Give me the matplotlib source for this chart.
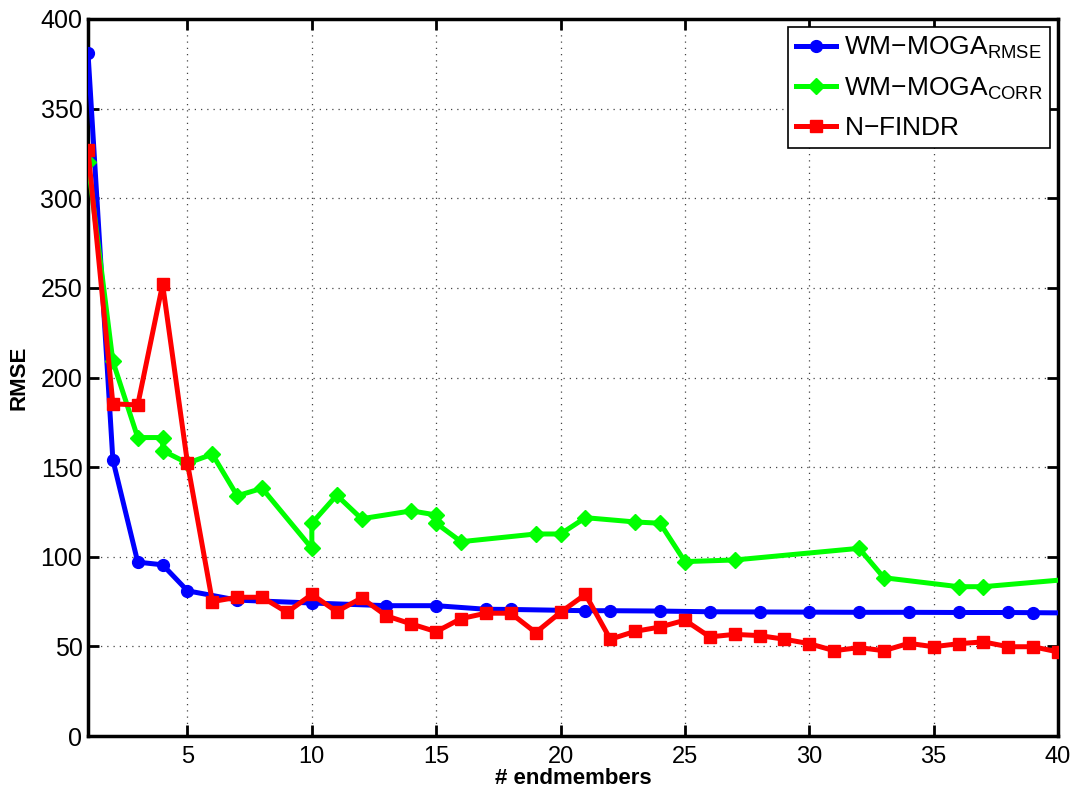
import matplotlib
matplotlib.use("Agg")
import matplotlib.pyplot as plt

plt.rcParams['font.family'] = ['Liberation Sans', 'DejaVu Sans']
plt.rcParams['mathtext.fontset'] = 'custom'
plt.rcParams['mathtext.rm'] = 'Liberation Sans'
plt.rcParams['mathtext.it'] = 'Liberation Sans'
plt.rcParams['mathtext.bf'] = 'Liberation Sans:bold'

# Data
rmse_x = [1, 2, 3, 4, 5, 7, 10, 13, 15, 17, 18, 21, 22, 24, 26, 28, 30, 32, 34, 36, 38, 39, 40]
rmse_y = [381, 154, 97, 95.5, 81, 75.8, 74.2, 72.7, 72.7, 70.7, 70.6, 69.9, 69.9, 69.7, 69.3, 69.2, 69.1, 69.0, 69.0, 68.9, 68.9, 68.8, 68.7]

corr_x = [1, 2, 3, 4, 4, 5, 6, 7, 8, 10, 10, 11, 12, 14, 15, 15, 16, 19, 20, 21, 23, 24, 25, 27, 32, 33, 36, 37, 40]
corr_y = [320, 209, 166.5, 166.5, 159.2, 152.2, 157.2, 134, 138.2, 104.7, 118.7, 134.3, 121.2, 125.6, 123.3, 118.7, 108.4, 112.7, 112.7, 121.8, 119.4, 118.7, 97.3, 98.2, 104.7, 88.3, 83.3, 83.3, 86.9]

nfindr_x = list(range(1, 41))
nfindr_y = [327, 185.3, 184.7, 252, 152.2, 75, 77.4, 77.4, 69, 79, 69.4, 77, 67, 62.5, 58.2, 65.5, 68.5, 68.5, 57.7, 69,
            79, 54, 58.4, 60.8, 64.6, 55.3, 56.7, 56, 54, 51.5, 47.6, 49.3, 47.6, 51.7, 49.8, 51.5, 52.5, 49.8, 49.8, 46.9]

labels = [r'WM$-$MOGA$_{\mathrm{RMSE}}$', r'WM$-$MOGA$_{\mathrm{CORR}}$', r'N$-$FINDR']
xticks = [5, 10, 15, 20, 25, 30, 35, 40]
yticks = [0, 50, 100, 150, 200, 250, 300, 350, 400]

fig = plt.figure(figsize=(10.78, 7.96), dpi=100)
ax = fig.add_axes([88/1078, 60/796, 970/1078, 717/796])

lw = 3.6
ax.plot(rmse_x, rmse_y, color=(0, 0, 1), lw=lw, marker='o', ms=8.5,
        markevery=list(range(len(rmse_x) - 1)), label=labels[0], zorder=3)
ax.plot(corr_x, corr_y, color=(0, 1, 0), lw=lw, marker='D', ms=8,
        markevery=list(range(len(corr_x) - 1)), label=labels[1], zorder=3)
ax.plot(nfindr_x, nfindr_y, color=(1, 0, 0), lw=lw, marker='s', ms=8.5,
        label=labels[2], zorder=4)

ax.set_xlim(1, 40)
ax.set_ylim(0, 400)
ax.set_xticks(xticks)
ax.set_yticks(yticks)
ax.tick_params(axis='both', direction='in', length=8, width=2, top=True, right=True)
ax.tick_params(axis='x', labelsize=17, pad=7)
ax.tick_params(axis='y', labelsize=18, pad=4)
for s in ax.spines.values():
    s.set_linewidth(2.5)
ax.grid(True, linestyle=(0, (1, 4)), color='#444444', linewidth=0.9)
ax.set_axisbelow(True)

ax.set_xlabel('# endmembers', fontsize=16, fontweight='bold', labelpad=0)
ax.set_ylabel('RMSE', fontsize=16, fontweight='bold', labelpad=8)

leg = ax.legend(loc='upper right', fontsize=19, frameon=True, fancybox=False,
                framealpha=1, edgecolor='black', handlelength=1.5, handletextpad=0.3,
                borderpad=0.3, labelspacing=0.55, borderaxespad=0.3)
leg.get_frame().set_linewidth(1.2)

fig.savefig('out.png', dpi=100)
